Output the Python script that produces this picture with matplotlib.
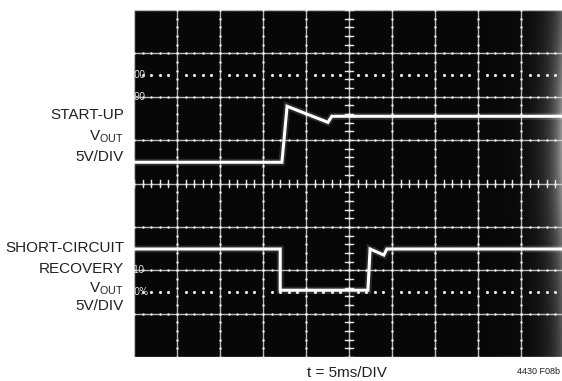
import numpy as np
import matplotlib
matplotlib.use("Agg")
import matplotlib.pyplot as plt
from matplotlib.colors import LinearSegmentedColormap

# ---- data (scope divisions: x 0..10, y 0..8) ----
startup_t = [0.0, 3.44, 3.56, 4.51, 4.60, 10.0]
startup_v = [4.49, 4.49, 5.78, 5.41, 5.55, 5.55]

short_t = [0.0, 3.40, 3.40, 5.44, 5.49, 5.81, 5.88, 10.0]
short_v = [2.49, 2.49, 1.54, 1.54, 2.49, 2.35, 2.49, 2.49]

pct_labels = ["00", "90", "10", "0%"]
pct_y = [6.5, 6.0, 2.0, 1.5]

left_labels_top = ["START-UP", "V$_{\\mathregular{OUT}}$", "5V/DIV"]
left_labels_bot = ["SHORT-CIRCUIT", "RECOVERY", "V$_{\\mathregular{OUT}}$", "5V/DIV"]
xlabel = "t = 5ms/DIV"
fig_id = "4430 F08b"

W, H = 562, 381
fig = plt.figure(figsize=(W / 100, H / 100), dpi=100)
fig.patch.set_facecolor("white")

x0, x1 = 134, 562
y0, y1 = 10, 357
px_div_x = 43.0
ax = fig.add_axes([x0 / W, (H - y1) / H, (x1 - x0) / W, (y1 - y0) / H])
xmax = (x1 - x0) / px_div_x
ax.set_xlim(0, xmax)
ax.set_ylim(0, 8)
ax.axis("off")

# background: black with faint glow at right edge
gx = np.linspace(0, xmax, 400)
gy = np.linspace(0, 8, 200)
GX, GY = np.meshgrid(gx, gy)
glow = 0.03 + 0.55 * np.exp((GX - xmax) / 0.3) * (0.5 + 0.5 * np.exp(-((GY - 4.8) / 2.5) ** 2))
cmap = LinearSegmentedColormap.from_list("g", ["#000000", "#ffffff"])
ax.imshow(np.clip(glow, 0, 1), extent=[0, xmax, 0, 8], origin="lower",
          cmap=cmap, vmin=0, vmax=1, aspect="auto", zorder=0, interpolation="bilinear")

gcol = "#d8d8d8"
# major grid lines
for i in range(0, 11):
    ax.plot([i, i], [0, 8], color=gcol, lw=1.0, alpha=0.85, zorder=1)
for j in range(0, 9):
    ax.plot([0, xmax], [j, j], color=gcol, lw=1.0, alpha=0.85, zorder=1)
# beads on grid lines
bx = np.arange(0, 10.01, 0.2)
for j in range(1, 8):
    ax.scatter(bx, np.full_like(bx, j), s=3, color="#f0f0f0", zorder=2, linewidths=0)
by = np.arange(0, 8.01, 0.2)
for i in range(1, 10):
    ax.scatter(np.full_like(by, i), by, s=3, color="#f0f0f0", zorder=2, linewidths=0)
# center line ticks
for t in np.arange(0, 10.01, 0.2):
    ax.plot([t, t], [4 - 0.09, 4 + 0.09], color="#e8e8e8", lw=1.0, zorder=2)
for t in np.arange(0, 8.01, 0.2):
    ax.plot([5 - 0.09, 5 + 0.09], [t, t], color="#e8e8e8", lw=1.0, zorder=2)
# 0% / 100% dotted lines
dx = np.array([v for v in np.arange(0.2, 10.0, 0.2) if abs(v - round(v)) > 0.05])
for yy in (1.5, 6.5):
    ax.scatter(dx, np.full_like(dx, yy), s=5, color="#e8e8e8", zorder=2, linewidths=0)
# percent markings at left edge
for lab, yy in zip(pct_labels, pct_y):
    ax.text(-0.02, yy, lab, color="#d8d8d8", fontsize=7, va="center", ha="left", zorder=3)

# traces (glow + core)
for tx, vy in ((startup_t, startup_v), (short_t, short_v)):
    ax.plot(tx, vy, color="white", lw=5, alpha=0.15, zorder=4, solid_joinstyle="miter")
    ax.plot(tx, vy, color="white", lw=2.2, zorder=5, solid_joinstyle="miter")

fam = ["Liberation Sans Narrow", "Liberation Sans", "DejaVu Sans"]
tcol = "#231f20"
xr = 124 / W
for lab, yp in zip(left_labels_top, [115, 137, 157]):
    fig.text(xr, 1 - yp / H, lab, ha="right", va="center", fontsize=11, family=fam, color=tcol)
for lab, yp in zip(left_labels_bot, [248, 269, 289, 306]):
    fig.text(xr, 1 - yp / H, lab, ha="right", va="center", fontsize=11, family=fam, color=tcol)
fig.text(347 / W, 1 - 373 / H, xlabel, ha="center", va="center", fontsize=11, family=fam, color=tcol)
fig.text(560 / W, 1 - 372 / H, fig_id, ha="right", va="center", fontsize=6.5, family=fam, color=tcol)

fig.savefig("out.png", dpi=100, facecolor="white")
